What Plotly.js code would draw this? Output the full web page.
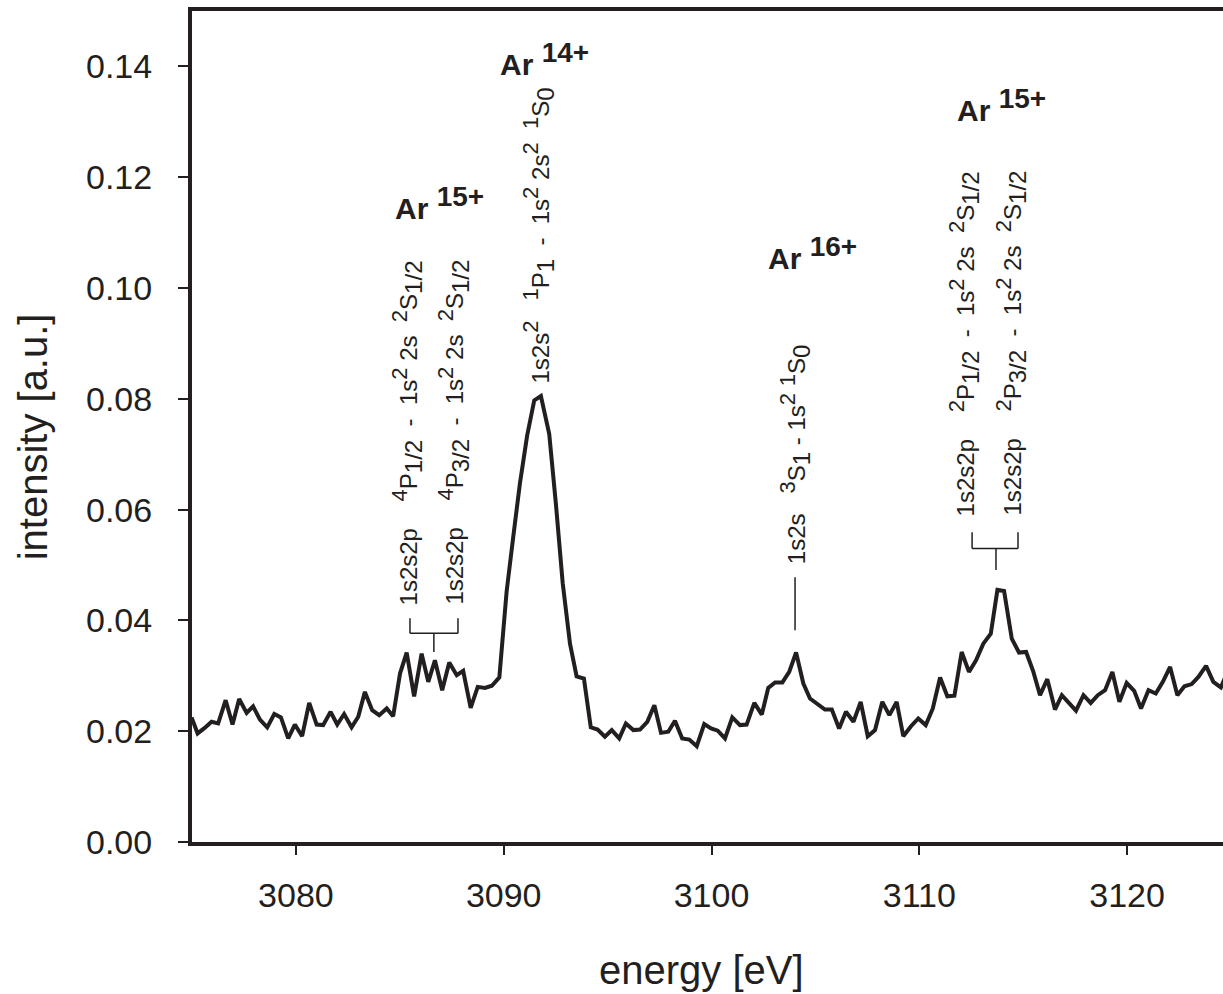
<!DOCTYPE html>
<html>
<head>
<meta charset="utf-8">
<script src="https://cdn.plot.ly/plotly-3.0.1.min.js"></script>
<style>
html,body{margin:0;padding:0;overflow:hidden;background:#fff;}
#chart{width:1231px;height:994px;}
</style>
</head>
<body>
<div id="chart"></div>
<script>
// ---- data ----
const energy = [
3074.98,3075.27,3075.61,3075.94,3076.26,3076.62,3076.95,3077.27,3077.63,3077.94,
3078.27,3078.62,3078.96,3079.28,3079.63,3079.95,3080.30,3080.64,3081.00,3081.31,
3081.67,3081.99,3082.32,3082.68,3083.00,3083.32,3083.67,3084.01,3084.37,3084.68,
3085.01,3085.33,3085.69,3086.05,3086.37,3086.69,3087.04,3087.38,3087.74,3088.05,
3088.41,3088.75,3089.10,3089.43,3089.79,3090.14,3090.46,3090.78,3091.13,3091.47,
3091.79,3092.19,3092.51,3092.84,3093.19,3093.51,3093.86,3094.19,3094.52,3094.87,
3095.20,3095.56,3095.88,3096.24,3096.56,3096.91,3097.25,3097.57,3097.92,3098.24,
3098.59,3098.93,3099.29,3099.65,3099.98,3100.30,3100.65,3101.00,3101.37,3101.69,
3102.06,3102.42,3102.73,3103.06,3103.41,3103.74,3104.07,3104.42,3104.74,3105.09,
3105.46,3105.79,3106.14,3106.47,3106.83,3107.18,3107.52,3107.87,3108.22,3108.56,
3108.91,3109.23,3109.60,3109.95,3110.31,3110.65,3111.00,3111.35,3111.69,3112.04,
3112.39,3112.73,3113.08,3113.44,3113.76,3114.08,3114.45,3114.80,3115.14,3115.49,
3115.81,3116.16,3116.53,3116.86,3117.22,3117.54,3117.90,3118.25,3118.59,3118.94,
3119.29,3119.63,3119.98,3120.34,3120.67,3121.03,3121.38,3121.72,3122.07,3122.42,
3122.76,3123.11,3123.43,3123.80,3124.15,3124.51,3124.86
];
const intensity = [
0.0225,0.0196,0.0206,0.0217,0.0214,0.0256,0.0212,0.0258,0.0233,0.0245,
0.0221,0.0207,0.0231,0.0225,0.0187,0.0212,0.0191,0.0251,0.0212,0.0211,
0.0235,0.0212,0.0231,0.0207,0.0226,0.0271,0.0238,0.0229,0.0241,0.0227,
0.0304,0.0342,0.0263,0.0340,0.0289,0.0328,0.0274,0.0324,0.0301,0.0309,
0.0242,0.0280,0.0278,0.0282,0.0297,0.0452,0.0551,0.0647,0.0734,0.0797,
0.0805,0.0737,0.0611,0.0467,0.0358,0.0299,0.0295,0.0207,0.0203,0.0190,
0.0202,0.0187,0.0214,0.0202,0.0203,0.0217,0.0247,0.0197,0.0199,0.0219,
0.0187,0.0185,0.0173,0.0213,0.0205,0.0201,0.0187,0.0225,0.0211,0.0212,
0.0251,0.0230,0.0278,0.0288,0.0288,0.0307,0.0342,0.0286,0.0259,0.0250,
0.0239,0.0239,0.0205,0.0235,0.0217,0.0253,0.0191,0.0202,0.0253,0.0229,
0.0253,0.0191,0.0209,0.0223,0.0211,0.0241,0.0297,0.0263,0.0264,0.0343,
0.0307,0.0328,0.0358,0.0376,0.0455,0.0453,0.0367,0.0342,0.0343,0.0307,
0.0265,0.0294,0.0239,0.0265,0.0250,0.0237,0.0265,0.0251,0.0265,0.0274,
0.0307,0.0253,0.0287,0.0273,0.0241,0.0274,0.0268,0.0289,0.0316,0.0265,
0.0281,0.0285,0.0298,0.0318,0.0289,0.0279,0.0310
];
const yTickVals = [0.00,0.02,0.04,0.06,0.08,0.10,0.12,0.14];
const yTickText = ["0.00","0.02","0.04","0.06","0.08","0.10","0.12","0.14"];
const xTickVals = [3080,3090,3100,3110,3120];
const xTickText = ["3080","3090","3100","3110","3120"];
const xTitle = "energy [eV]";
const yTitle = "intensity [a.u.]";

const ionLabels = ["Ar <sup>15+</sup>","Ar <sup>14+</sup>","Ar <sup>16+</sup>","Ar <sup>15+</sup>"];
const S = "\u00A0";
const transitionLabels = [
  "1s2s2p"+S+S+S+S+"<sup>4</sup>P<sub>1/2</sub>"+S+S+"-"+S+S+"1s<sup>2</sup>"+S+"2s"+S+S+"<sup>2</sup>S<sub>1/2</sub>",
  "1s2s2p"+S+S+S+S+"<sup>4</sup>P<sub>3/2</sub>"+S+S+"-"+S+S+"1s<sup>2</sup>"+S+"2s"+S+S+"<sup>2</sup>S<sub>1/2</sub>",
  "1s2s<sup>2</sup>"+S+S+S+"<sup>1</sup>P<sub>1</sub>"+S+S+"-"+S+S+"1s<sup>2</sup>"+S+"2s<sup>2</sup>"+S+S+"<sup>1</sup>S<sub>0</sub>",
  "1s2s"+S+S+S+"<sup>3</sup>S<sub>1</sub>"+S+"-"+S+"1s<sup>2</sup>"+S+"<sup>1</sup>S<sub>0</sub>",
  "1s2s2p"+S+S+S+S+"<sup>2</sup>P<sub>1/2</sub>"+S+S+"-"+S+S+"1s<sup>2</sup>"+S+"2s"+S+S+"<sup>2</sup>S<sub>1/2</sub>",
  "1s2s2p"+S+S+S+S+"<sup>2</sup>P<sub>3/2</sub>"+S+S+"-"+S+S+"1s<sup>2</sup>"+S+"2s"+S+S+"<sup>2</sup>S<sub>1/2</sub>"
];

// ---- styling / layout ----
const INK = "#231f20";
const FONT = "Liberation Sans, Arial, Helvetica, sans-serif";

function sizeScripts(t, supPx, subPx){
  return t.replace(/<sup>(.*?)<\/sup>/g, "<sup><span style='font-size:"+supPx+"px'>$1</span></sup>")
          .replace(/<sub>(.*?)<\/sub>/g, "<sub><span style='font-size:"+subPx+"px'>$1</span></sub>");
}

const ionPos = [
  {x:3086.90, y:0.1153},
  {x:3091.95, y:0.1414},
  {x:3104.85, y:0.1064},
  {x:3113.95, y:0.1330}
];
const transPos = [
  {x:3085.34, y:0.0424},
  {x:3087.56, y:0.0424},
  {x:3091.65, y:0.0824},
  {x:3104.02, y:0.0498},
  {x:3112.15, y:0.0585},
  {x:3114.42, y:0.0585}
];

const annotations = [];
ionLabels.forEach((t,i)=>{
  annotations.push({
    text:"<b>"+sizeScripts(t,28,28)+"</b>",
    x:ionPos[i].x, y:ionPos[i].y, xref:"x", yref:"y",
    showarrow:false, xanchor:"center", yanchor:"middle",
    font:{family:FONT, size:30, color:INK}
  });
});
transitionLabels.forEach((t,i)=>{
  annotations.push({
    text:sizeScripts(t,22,24), x:transPos[i].x, y:transPos[i].y, xref:"x", yref:"y",
    showarrow:false, textangle:-90, xanchor:"center", yanchor:"bottom",
    font:{family:FONT, size:24, color:INK}
  });
});
// axis titles
annotations.push({
  text:xTitle, xref:"paper", yref:"paper", x:0.490, y:-0.154,
  xanchor:"center", yanchor:"middle", showarrow:false,
  font:{family:FONT, size:40, color:INK}
});
annotations.push({
  text:yTitle, xref:"paper", yref:"paper", x:-0.153, y:0.487, textangle:-90,
  xanchor:"center", yanchor:"middle", showarrow:false,
  font:{family:FONT, size:40, color:INK}
});

function seg(x0,y0,x1,y1){
  return {type:"line", xref:"x", yref:"y", x0:x0, y0:y0, x1:x1, y1:y1,
          line:{color:INK, width:1.5}};
}
const shapes = [
  // left Ar15+ bracket
  seg(3085.49,0.0404,3085.49,0.0377),
  seg(3087.80,0.0404,3087.80,0.0377),
  seg(3085.49,0.0377,3087.80,0.0377),
  seg(3086.64,0.0377,3086.64,0.0343),
  // Ar16+ line
  seg(3104.02,0.0478,3104.02,0.0382),
  // right Ar15+ bracket
  seg(3112.54,0.0559,3112.54,0.0530),
  seg(3114.75,0.0559,3114.75,0.0530),
  seg(3112.54,0.0530,3114.75,0.0530),
  seg(3113.69,0.0530,3113.69,0.0491)
];

const trace = {
  x: energy, y: intensity, type:"scatter", mode:"lines",
  line:{color:INK, width:4}, hoverinfo:"skip"
};

const layout = {
  width:1231, height:994,
  margin:{l:192, r:0, t:11, b:152},
  paper_bgcolor:"#fff", plot_bgcolor:"#fff",
  showlegend:false,
  font:{family:FONT, color:INK},
  xaxis:{
    range:[3075,3125], tickvals:xTickVals, ticktext:xTickText,
    ticks:"outside", ticklen:9, tickwidth:2, tickcolor:INK,
    showline:true, linewidth:4, linecolor:INK, mirror:true,
    showgrid:false, zeroline:false,
    tickfont:{family:FONT, size:34, color:INK},
    ticklabelstandoff:11
  },
  yaxis:{
    range:[0,0.15], tickvals:yTickVals, ticktext:yTickText,
    ticks:"outside", ticklen:10, tickwidth:2, tickcolor:INK,
    showline:true, linewidth:4, linecolor:INK, mirror:true,
    showgrid:false, zeroline:false,
    tickfont:{family:FONT, size:34, color:INK},
    ticklabelstandoff:19
  },
  annotations: annotations,
  shapes: shapes
};

Plotly.newPlot("chart",[trace],layout,{displayModeBar:false, staticPlot:true});
</script>
</body>
</html>
